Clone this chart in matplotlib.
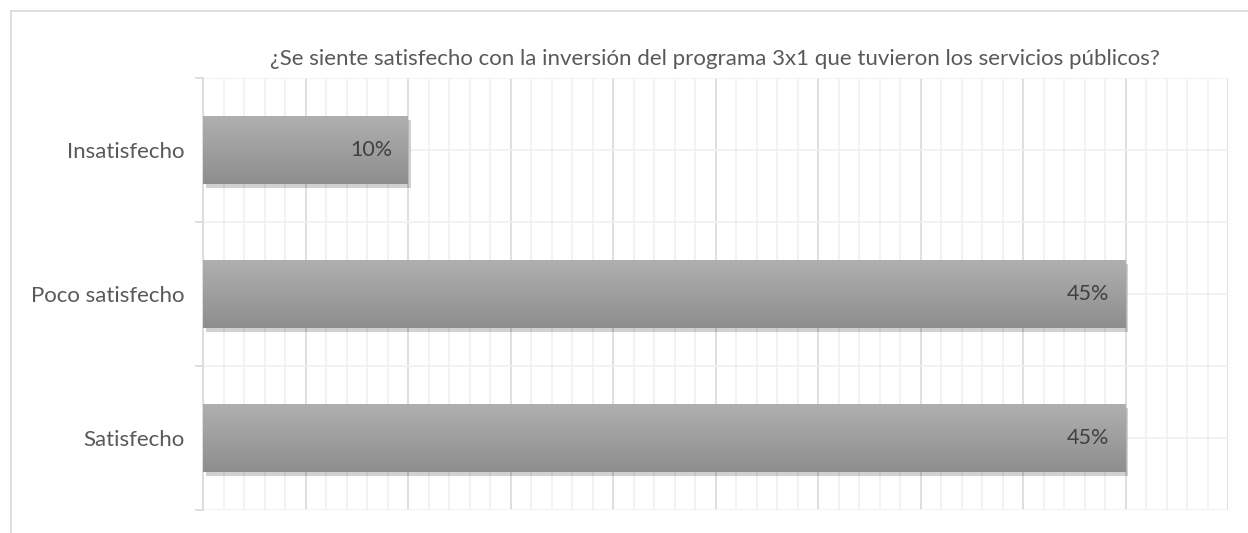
import numpy as np
import matplotlib.pyplot as plt
from matplotlib.lines import Line2D
from matplotlib import patheffects as pe
from matplotlib.colors import LinearSegmentedColormap

categories = ["Satisfecho", "Poco satisfecho", "Insatisfecho"]
values = [0.45, 0.45, 0.10]
labels = ["45%", "45%", "10%"]
title = "¿Se siente satisfecho con la inversión del programa 3x1 que tuvieron los servicios públicos?"

plt.rcParams['font.family'] = ['Lato', 'DejaVu Sans']

fig = plt.figure(figsize=(12.48, 5.33), dpi=100)
ax = fig.add_axes([203 / 1248, 23 / 533, 1025 / 1248, 432 / 533])

# outer chart border (top/left visible)
fig.add_artist(Line2D([11 / 1248, 11 / 1248], [0, 1 - 11 / 533], transform=fig.transFigure,
                      color="#d9d9d9", lw=1.2))
fig.add_artist(Line2D([11 / 1248, 1], [1 - 11 / 533, 1 - 11 / 533], transform=fig.transFigure,
                      color="#d9d9d9", lw=1.2))

y = np.arange(len(categories))
bars = ax.barh(y, values, height=0.47, color="#9e9e9e", zorder=3,
               path_effects=[pe.SimplePatchShadow(offset=(2, -3), shadow_rgbFace="#000000", alpha=0.18),
                             pe.Normal()])

# vertical gradient on each bar
grad = np.linspace(0, 1, 100).reshape(-1, 1)
cmap = LinearSegmentedColormap.from_list("g", ["#8e8e8e", "#afafaf"])
for b in bars:
    x0, y0, w, h = b.get_x(), b.get_y(), b.get_width(), b.get_height()
    im = ax.imshow(grad, extent=[x0, x0 + w, y0, y0 + h], origin="lower", aspect="auto",
                   cmap=cmap, zorder=4)
    im.set_clip_path(b)

for v, yy, lab in zip(values, y, labels):
    ax.text(v - 0.0078, yy, lab, ha="right", va="center", fontsize=15.5, color="#404040", zorder=5)

ax.set_xlim(0, 0.5)
ax.set_ylim(-0.5, len(categories) - 0.5)

ax.set_xticks(np.arange(0, 0.501, 0.05))
ax.set_xticks(np.arange(0, 0.501, 0.01), minor=True)
ax.set_yticks(y)
ax.set_yticklabels(categories, fontsize=16, color="#595959")
ax.set_yticks(np.arange(-0.5, len(categories), 1.0), minor=True)
ax.tick_params(axis="x", which="both", length=0, labelbottom=False)
ax.tick_params(axis="y", which="major", length=0, pad=13)
ax.tick_params(axis="y", which="minor", length=6, color="#d9d9d9", width=1.2)

ax.grid(axis="x", which="major", color="#d9d9d9", lw=1.2, zorder=0)
ax.grid(axis="x", which="minor", color="#f0f0f0", lw=1.2, zorder=0)
ax.grid(axis="y", which="both", color="#f0f0f0", lw=1.2, zorder=0)
ax.set_axisbelow(True)

for s in ["top", "right", "bottom"]:
    ax.spines[s].set_visible(False)
ax.spines["left"].set_color("#d9d9d9")
ax.spines["left"].set_linewidth(1.2)

fig.text(715 / 1248, 1 - 59 / 533, title, ha="center", va="center", fontsize=16, color="#595959")

fig.savefig("out.png", dpi=100)
